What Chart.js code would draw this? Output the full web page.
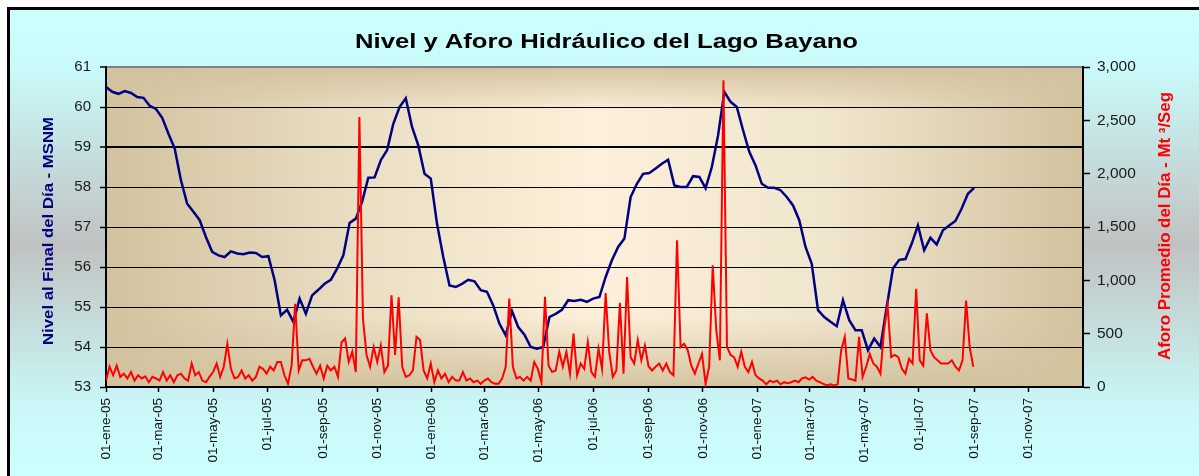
<!DOCTYPE html>
<html>
<head>
<meta charset="utf-8">
<script src="https://cdn.jsdelivr.net/npm/chart.js@4.4.0/dist/chart.umd.min.js"></script>
<style>
html, body { margin: 0; padding: 0; background: #fff; }
#wrap { width: 1199px; height: 476px; }
</style>
</head>
<body>
<div id="wrap"><canvas id="chart" width="1199" height="476"></canvas></div>
<script>
// nivel del lago (MSNM), una lectura cada 7 dias desde 01-ene-05
var nivelStep = 7;
var nivel = [
    60.5, 60.38, 60.33, 60.4, 60.35, 60.25, 60.23, 60.03, 59.95, 59.73,
    59.33, 58.96, 58.17, 57.58, 57.38, 57.17, 56.75, 56.38, 56.29, 56.25,
    56.39, 56.34, 56.32, 56.36, 56.35, 56.25, 56.27, 55.67, 54.79, 54.93,
    54.63, 55.21, 54.83, 55.29, 55.43, 55.58, 55.68, 55.96, 56.29, 57.1,
    57.21, 57.63, 58.23, 58.24, 58.67, 58.92, 59.58, 60.0, 60.22, 59.5,
    59.04, 58.33, 58.21, 57.08, 56.25, 55.54, 55.5, 55.58, 55.68, 55.64,
    55.42, 55.38, 55.04, 54.58, 54.29, 54.9, 54.5, 54.31, 54.0, 53.96,
    54.0, 54.75, 54.83, 54.93, 55.17, 55.15, 55.18, 55.13, 55.21, 55.25,
    55.75, 56.17, 56.5, 56.71, 57.75, 58.08, 58.33, 58.35, 58.46, 58.58,
    58.68, 58.04, 58.0, 58.0, 58.27, 58.25, 57.97, 58.5, 59.29, 60.38,
    60.13, 60.0, 59.42, 58.88, 58.54, 58.08, 57.98, 57.98, 57.92, 57.75,
    57.54, 57.17, 56.5, 56.08, 54.92, 54.75, 54.63, 54.52, 55.17, 54.67,
    54.42, 54.42, 53.92, 54.21, 54.0, 55.0, 55.96, 56.18, 56.2, 56.58,
    57.04, 56.42, 56.73, 56.56, 56.92, 57.04, 57.15, 57.46, 57.83, 57.98
];

// aforo promedio (Mt3/seg), una lectura cada 4 dias desde 01-ene-05
var aforoStep = 4;
var aforo = [
    60, 190, 110, 200, 95, 125, 80, 140, 60, 110,
    80, 100, 45, 95, 80, 60, 140, 60, 110, 45,
    110, 125, 80, 60, 220, 110, 140, 60, 45, 95,
    140, 220, 95, 190, 405, 170, 80, 95, 155, 80,
    110, 60, 95, 190, 170, 125, 190, 155, 235, 235,
    110, 30, 200, 780, 155, 250, 250, 265, 190, 125,
    200, 80, 200, 155, 190, 95, 420, 455, 235, 330,
    140, 2530, 640, 300, 190, 375, 235, 390, 140, 200,
    860, 300, 840, 190, 95, 110, 155, 470, 440, 155,
    80, 220, 45, 155, 80, 125, 45, 95, 60, 60,
    140, 60, 80, 45, 60, 30, 60, 80, 45, 30,
    30, 80, 190, 830, 190, 80, 95, 60, 95, 60,
    235, 170, 45, 845, 200, 140, 155, 330, 190, 330,
    125, 500, 110, 220, 170, 420, 140, 95, 360, 170,
    880, 330, 95, 155, 790, 125, 1030, 280, 220, 440,
    250, 390, 195, 155, 190, 220, 155, 220, 140, 110,
    1375, 375, 405, 345, 200, 125, 220, 310, 30, 190,
    1140, 530, 250, 2875, 375, 300, 280, 190, 330, 190,
    140, 235, 110, 80, 60, 25, 60, 45, 60, 25,
    45, 35, 45, 60, 45, 80, 90, 70, 95, 60,
    45, 30, 15, 25, 15, 25, 345, 470, 80, 70,
    60, 470, 95, 190, 310, 220, 190, 125, 530, 765,
    280, 300, 280, 170, 125, 265, 220, 920, 250, 200,
    690, 345, 280, 250, 220, 220, 220, 250, 190, 155,
    250, 810, 375, 190
];

var xTickLabels = [
    '01-ene-05', '01-mar-05', '01-may-05', '01-jul-05', '01-sep-05', '01-nov-05',
    '01-ene-06', '01-mar-06', '01-may-06', '01-jul-06', '01-sep-06', '01-nov-06',
    '01-ene-07', '01-mar-07', '01-may-07', '01-jul-07', '01-sep-07', '01-nov-07'
];
var xEnd = '01-ene-08';

var meses = ['ene', 'feb', 'mar', 'abr', 'may', 'jun', 'jul', 'ago', 'sep', 'oct', 'nov', 'dic'];
function dayOf(label) {
    var p = label.split('-');
    return (Date.UTC(2000 + Number(p[2]), meses.indexOf(p[1]), Number(p[0])) - Date.UTC(2005, 0, 1)) / 86400000;
}

var nivelPts = nivel.map(function (v, i) { return { x: i * nivelStep, y: v }; });
var aforoPts = aforo.map(function (v, i) { return { x: i * aforoStep, y: v }; });

var FONT = '"Liberation Sans", Arial, sans-serif';

function drawText(ctx, text, x, y, rot, font, color, width) {
    ctx.save();
    ctx.translate(x, y);
    ctx.rotate(rot);
    ctx.font = font;
    var w = ctx.measureText(text).width;
    ctx.scale(width / w, 1);
    ctx.fillStyle = color;
    ctx.textAlign = 'center';
    ctx.textBaseline = 'alphabetic';
    ctx.fillText(text, 0, 0);
    ctx.restore();
}

var fondo = {
    id: 'fondo',
    beforeDraw: function (chart) {
        var ctx = chart.ctx, a = chart.chartArea;
        ctx.save();
        ctx.fillStyle = '#fff';
        ctx.fillRect(0, 0, chart.width, chart.height);
        var bg = ctx.createLinearGradient(0, 10, 0, 480);
        bg.addColorStop(0, '#ccffff');
        bg.addColorStop(0.12, '#cafafa');
        bg.addColorStop(0.5, '#c0c2c2');
        bg.addColorStop(0.85, '#caf8f8');
        bg.addColorStop(1, '#ccffff');
        ctx.fillStyle = bg;
        ctx.fillRect(9, 9, chart.width, chart.height);
        ctx.strokeStyle = '#000';
        ctx.lineWidth = 3;
        ctx.strokeRect(8.5, 8.5, chart.width + 20, chart.height + 20);

        var g = ctx.createLinearGradient(a.left, 0, a.right, 0);
        g.addColorStop(0, '#d2c29e');
        g.addColorStop(0.25, '#e9ddc2');
        g.addColorStop(0.5, '#fcf0da');
        g.addColorStop(0.75, '#efe4cc');
        g.addColorStop(1, '#d2c29e');
        ctx.fillStyle = g;
        ctx.fillRect(a.left, a.top, a.width, a.height);
        var v = ctx.createLinearGradient(0, a.top, 0, a.bottom);
        v.addColorStop(0, 'rgba(210,194,158,0.95)');
        v.addColorStop(0.14, 'rgba(210,194,158,0)');
        v.addColorStop(0.78, 'rgba(210,194,158,0)');
        v.addColorStop(1, 'rgba(210,194,158,0.95)');
        ctx.fillStyle = v;
        ctx.fillRect(a.left, a.top, a.width, a.height);
        ctx.restore();
    },
    afterDraw: function (chart) {
        var ctx = chart.ctx;
        drawText(ctx, 'Nivel y Aforo Hidráulico del Lago Bayano', 606.5, 48, 0, 'bold 21px ' + FONT, '#000', 503);
        drawText(ctx, 'Nivel al Final del Día - MSNM', 53, 231, -Math.PI / 2, 'bold 15px ' + FONT, '#000080', 228);
        drawText(ctx, 'Aforo Promedio del Día - Mt \u00b3/Seg', 1170, 226, -Math.PI / 2, 'bold 16px ' + FONT, '#ff0000', 268);
    }
};

new Chart(document.getElementById('chart'), {
    type: 'line',
    data: {
        datasets: [{
            label: 'Aforo',
            data: aforoPts,
            yAxisID: 'y1',
            borderColor: '#ff0000',
            borderWidth: 2,
            pointRadius: 0,
            tension: 0,
            fill: false
        }, {
            label: 'Nivel',
            data: nivelPts,
            yAxisID: 'y',
            borderColor: '#000080',
            borderWidth: 2.5,
            pointRadius: 0,
            tension: 0,
            fill: false
        }]
    },
    options: {
        responsive: false,
        animation: false,
        events: [],
        layout: { padding: { top: 67, left: 0, right: 0, bottom: 0 } },
        plugins: { legend: { display: false }, title: { display: false }, tooltip: { enabled: false } },
        scales: {
            x: {
                type: 'linear',
                min: dayOf(xTickLabels[0]),
                max: dayOf(xEnd),
                afterBuildTicks: function (s) {
                    s.ticks = xTickLabels.map(function (l) { return { value: dayOf(l) }; });
                },
                afterFit: function (s) { s.height = 89; },
                ticks: {
                    autoSkip: false,
                    minRotation: 90,
                    maxRotation: 90,
                    padding: 6,
                    color: '#111',
                    font: { family: FONT, size: 13.5 },
                    callback: function (v, i) { return xTickLabels[i]; }
                },
                grid: { drawOnChartArea: false, drawTicks: true, tickLength: 5, color: '#000', tickWidth: 1.5 },
                border: { display: true, color: '#000', width: 2 }
            },
            y: {
                position: 'left',
                min: 53,
                max: 61,
                afterFit: function (s) { s.width = 106; },
                ticks: {
                    stepSize: 1,
                    padding: 9,
                    color: '#1a1a1a',
                    font: { family: FONT, size: 15 }
                },
                grid: {
                    color: function (c) { return c.tick && c.tick.value === 61 ? '#808080' : '#000'; },
                    lineWidth: function (c) { return c.tick && (c.tick.value === 59 || c.tick.value === 61) ? 2 : 1; },
                    tickColor: '#000',
                    tickWidth: 1.5,
                    tickLength: 6
                },
                border: { display: true, color: '#000', width: 2 }
            },
            y1: {
                position: 'right',
                min: 0,
                max: 3000,
                afterFit: function (s) { s.width = 116; },
                ticks: {
                    stepSize: 500,
                    padding: 7,
                    color: '#1a1a1a',
                    font: { family: FONT, size: 15.5 },
                    callback: function (v) { return v.toLocaleString('en-US'); }
                },
                grid: { drawOnChartArea: false, tickColor: '#000', tickWidth: 1.5, tickLength: 7 },
                border: { display: true, color: '#000', width: 2 }
            }
        }
    },
    plugins: [fondo]
});
</script>
</body>
</html>
